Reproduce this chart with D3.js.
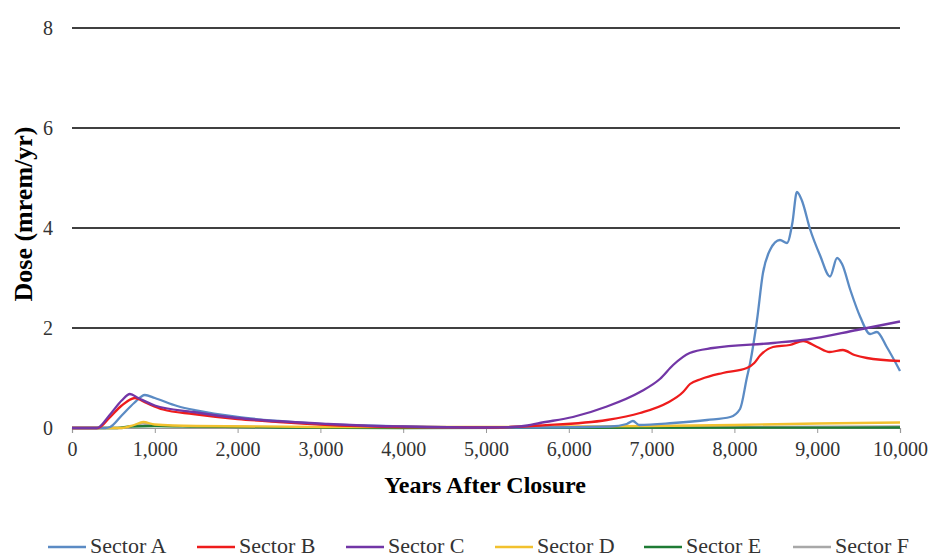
<!DOCTYPE html>
<html lang="en">
<head>
    <meta charset="UTF-8">
    <title>Dose by Sector</title>
    <script src="https://cdn.jsdelivr.net/npm/d3@7/dist/d3.min.js"></script>
    <style>
        body { margin: 0; background: #fff; }
        svg text { font-family: "Liberation Serif", "Times New Roman", Times, "DejaVu Serif", serif; }
    </style>
</head>
<body>
    <script>
        // series: [year, dose in mrem/yr]
        var sectorA = [[0,0],[400,0],[460,0.02],[600,0.25],[750,0.5],[880,0.66],[1000,0.6],[1270,0.44],[1500,0.35],
            [2000,0.22],[2500,0.14],[3000,0.08],[3500,0.05],[4000,0.03],[5000,0.01],[5650,0.01],[6500,0.03],
            [6700,0.08],[6775,0.14],[6850,0.06],[7260,0.1],[7670,0.16],[7950,0.22],[8068,0.38],[8150,1.0],
            [8190,1.3],[8273,2.16],[8345,3.1],[8430,3.56],[8550,3.76],[8635,3.7],[8700,4.1],[8755,4.72],
            [8815,4.55],[8913,3.98],[9035,3.45],[9155,3.03],[9240,3.4],[9300,3.28],[9400,2.76],[9520,2.22],
            [9640,1.88],[9720,1.92],[9840,1.62],[10000,1.14]];
        var sectorB = [[0,0],[315,0],[450,0.2],[600,0.45],[760,0.6],[900,0.5],[1100,0.37],[1465,0.28],[2000,0.18],
            [2500,0.12],[3000,0.07],[4000,0.02],[5000,0.01],[5300,0.02],[5652,0.05],[6460,0.16],[6860,0.3],
            [7185,0.5],[7380,0.72],[7464,0.88],[7600,0.98],[7860,1.1],[8150,1.2],[8240,1.3],[8310,1.45],
            [8466,1.62],[8670,1.66],[8830,1.74],[9000,1.62],[9150,1.52],[9310,1.56],[9450,1.46],[9600,1.4],
            [10000,1.34]];
        var sectorC = [[0,0],[300,0],[450,0.25],[600,0.55],[700,0.68],[800,0.6],[1000,0.45],[1465,0.32],[2000,0.2],
            [2275,0.16],[3090,0.08],[3500,0.05],[4000,0.03],[5000,0.01],[5300,0.02],[5500,0.05],[5650,0.1],
            [6050,0.22],[6460,0.43],[6860,0.72],[7100,0.98],[7260,1.26],[7460,1.5],[7740,1.6],[8470,1.7],
            [8880,1.77],[9480,1.96],[10000,2.13]];
        var sectorD = [[0,0],[600,0],[750,0.06],[860,0.12],[1000,0.07],[1500,0.04],[3000,0.02],[5000,0.02],
            [6000,0.03],[7000,0.04],[8000,0.06],[9000,0.09],[10000,0.11]];
        var sectorE = [[0,0],[550,0],[700,0.03],[1000,0.04],[1500,0.03],[2500,0.01],[4000,0],[10000,0.01]];
        var sectorF = [[0,0],[600,0],[750,0.05],[850,0.09],[1000,0.05],[1500,0.03],[3000,0.01],[6000,0.01],
            [10000,0.03]];

        var seriesNames = ["Sector A", "Sector B", "Sector C", "Sector D", "Sector E", "Sector F"];
        var seriesData = [sectorA, sectorB, sectorC, sectorD, sectorE, sectorF];
        var seriesColors = ["#5b8bc4", "#ee1c1c", "#7236a6", "#f2c12e", "#1e7b34", "#a8a8a8"];

        var xTicks = [0, 1000, 2000, 3000, 4000, 5000, 6000, 7000, 8000, 9000, 10000];
        var yTicks = [0, 2, 4, 6, 8];

        var width = 933;
        var height = 557;
        var padding = {top: 28, right: 33, bottom: 129, left: 72};
        var serif = "Liberation Serif, Times New Roman, Times, DejaVu Serif, serif";

        var svg = d3.select("body").append("svg")
                .attr("width", width).attr("height", height)
                .attr("font-family", serif);

        var x = d3.scaleLinear().domain([0, 10000]).range([padding.left, width - padding.right]);
        var y = d3.scaleLinear().domain([0, 8]).range([height - padding.bottom, padding.top]);

        /* gridlines */
        svg.append("g").selectAll("line")
                .data(yTicks.filter(function(d){ return d > 0; }))
                .enter().append("line")
                .attr("x1", x(0)).attr("x2", x(10000))
                .attr("y1", function(d){ return y(d); })
                .attr("y2", function(d){ return y(d); })
                .attr("stroke", "#000").attr("stroke-width", 1.5);

        /* y axis labels */
        svg.append("g").selectAll("text")
                .data(yTicks)
                .enter().append("text")
                .attr("x", padding.left - 19)
                .attr("y", function(d){ return y(d); })
                .attr("dy", "0.35em")
                .attr("text-anchor", "end")
                .attr("font-size", "20px").attr("fill", "#333")
                .text(function(d){ return d; });

        /* x axis */
        var xAxis = d3.axisBottom(x)
                .tickValues(xTicks)
                .tickSize(5)
                .tickPadding(9)
                .tickFormat(d3.format(","));
        var gx = svg.append("g")
                .attr("transform", "translate(0," + y(0) + ")")
                .call(xAxis)
                .attr("font-family", serif);
        gx.select(".domain").attr("stroke", "#999").attr("stroke-width", 1.2);
        gx.selectAll(".tick line").attr("stroke", "#999");
        gx.selectAll(".tick text")
                .attr("font-size", "20px").attr("fill", "#333");

        /* lines: draw F first so the colored ones sit on top */
        var line = d3.line()
                .x(function(d){ return x(d[0]); })
                .y(function(d){ return y(d[1]); })
                .curve(d3.curveMonotoneX);

        var order = [5, 4, 3, 0, 1, 2];
        svg.append("g").selectAll("path")
                .data(order)
                .enter().append("path")
                .attr("d", function(i){ return line(seriesData[i]); })
                .attr("fill", "none")
                .attr("stroke", function(i){ return seriesColors[i]; })
                .attr("stroke-width", 2.3)
                .attr("stroke-linejoin", "round");

        /* axis titles */
        svg.append("text")
                .attr("x", 485)
                .attr("y", 493)
                .attr("text-anchor", "middle")
                .attr("font-size", "24px").attr("font-weight", "bold")
                .text("Years After Closure");

        svg.append("text")
                .attr("transform", "translate(32,214) rotate(-90)")
                .attr("text-anchor", "middle")
                .attr("font-size", "26px").attr("font-weight", "bold")
                .text("Dose (mrem/yr)");

        /* legend: even slots across the bottom */
        var slot = 149;
        var legend = svg.append("g").attr("transform", "translate(48,547)");
        var item = legend.selectAll("g")
                .data(seriesNames)
                .enter().append("g")
                .attr("transform", function(d, i){ return "translate(" + (i * slot) + ",0)"; });
        item.append("line")
                .attr("x1", 0).attr("x2", 38).attr("y1", 0).attr("y2", 0)
                .attr("stroke", function(d, i){ return seriesColors[i]; })
                .attr("stroke-width", 2.3);
        item.append("text")
                .attr("x", 42).attr("y", 6)
                .attr("font-size", "22px").attr("fill", "#333")
                .text(function(d){ return d; });
    </script>
</body>
</html>
